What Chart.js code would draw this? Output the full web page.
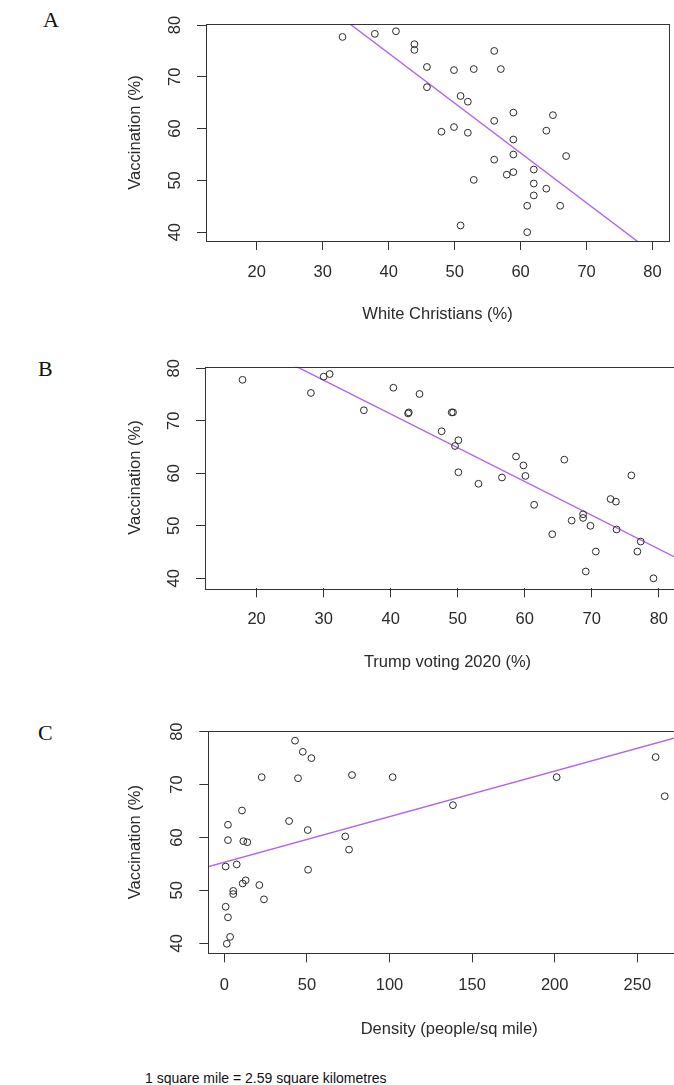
<!DOCTYPE html>
<html>
<head>
<meta charset="utf-8">
<script src="https://cdn.jsdelivr.net/npm/chart.js@4/dist/chart.umd.min.js"></script>
<style>
  html, body { margin: 0; padding: 0; background: #fff; width: 674px; height: 1085px; overflow: hidden; }
  .panel { position: absolute; left: 0; }
  .letter { position: absolute; font-family: "Liberation Serif", "Times New Roman", serif; font-size: 22px; line-height: 22px; color: #111; }
  .note { position: absolute; left: 145px; top: 1071px; font-family: "Liberation Sans", Arial, sans-serif; font-size: 14px; line-height: 14px; color: #111; white-space: nowrap; }
</style>
</head>
<body>
<div class="letter" style="left:43px; top:9px;">A</div>
<div class="letter" style="left:38px; top:358px;">B</div>
<div class="letter" style="left:38px; top:722px;">C</div>

<div class="panel" style="top:0px;"><canvas id="cA" width="674" height="335"></canvas></div>
<div class="panel" style="top:340px;"><canvas id="cB" width="700" height="345"></canvas></div>
<div class="panel" style="top:700px;"><canvas id="cC" width="700" height="345"></canvas></div>

<div class="note">1 square mile = 2.59 square kilometres</div>

<script>
// ---------------- data ----------------
const vaccTicks = [40, 50, 60, 70, 80];
const pctTicks = [20, 30, 40, 50, 60, 70, 80];
const densityTicks = [0, 50, 100, 150, 200, 250];

// Panel A: White Christians (%) vs Vaccination (%)
const whiteChristians = [33.0, 37.9, 41.1, 43.9, 43.9, 45.8, 45.8, 56.0, 49.9, 52.9, 57.0, 50.9, 52.0, 58.9, 64.9, 56.0, 48.0, 49.9, 52.0, 63.9, 58.9, 58.9, 66.9, 56.0, 62.0, 52.9, 57.9, 58.9, 62.0, 63.9, 62.0, 61.0, 66.0, 50.9, 61.0];
const vaccA = [77.7, 78.3, 78.8, 76.3, 75.2, 71.9, 68.0, 75.0, 71.3, 71.5, 71.5, 66.3, 65.2, 63.1, 62.6, 61.5, 59.4, 60.3, 59.2, 59.6, 57.9, 55.0, 54.7, 54.0, 52.1, 50.1, 51.1, 51.6, 49.4, 48.4, 47.1, 45.1, 45.1, 41.3, 40.0];
const fitAx = [33.3, 79.0];
const fitAy = [81.0, 37.0];

// Panel B: Trump voting 2020 (%) vs Vaccination (%)
const trumpVoting = [17.9, 28.1, 30.0, 30.9, 36.0, 40.4, 42.6, 42.7, 44.3, 49.1, 49.3, 47.6, 50.1, 49.6, 50.1, 53.1, 56.6, 58.7, 59.8, 60.1, 65.9, 61.4, 64.1, 67.0, 68.7, 68.7, 69.8, 69.1, 70.6, 72.8, 73.6, 75.9, 73.7, 77.3, 76.8, 79.2];
const vaccB = [77.8, 75.3, 78.4, 78.9, 72.0, 76.3, 71.4, 71.6, 75.1, 71.6, 71.6, 68.0, 66.3, 65.2, 60.2, 58.0, 59.2, 63.2, 61.5, 59.5, 62.6, 54.0, 48.4, 51.0, 52.2, 51.5, 50.0, 41.3, 45.1, 55.1, 54.6, 59.6, 49.3, 47.0, 45.1, 40.0];
const fitBx = [24.9, 86.0];
const fitBy = [81.0, 41.7];

// Panel C: Density (people/sq mile) vs Vaccination (%)
const density = [42.8, 47.5, 52.7, 22.6, 44.6, 77.3, 101.9, 10.7, 2.2, 39.2, 50.5, 2.2, 11.5, 13.9, 73.2, 75.5, 0.8, 7.5, 50.7, 11.1, 12.9, 21.2, 5.4, 5.4, 24.0, 0.8, 2.2, 3.5, 1.5, 138.4, 201.2, 261.1, 266.6];
const vaccC = [78.3, 76.2, 75.0, 71.4, 71.2, 71.8, 71.4, 65.1, 62.4, 63.1, 61.4, 59.5, 59.3, 59.1, 60.2, 57.7, 54.5, 54.9, 53.9, 51.3, 51.9, 51.0, 49.9, 49.3, 48.3, 46.9, 44.9, 41.2, 39.9, 66.1, 71.4, 75.2, 67.8];
const fitCx = [-12.0, 290.0];
const fitCy = [54.3, 80.3];

// ---------------- helpers ----------------
const FONT = { family: "'Liberation Sans', Arial, sans-serif", size: 16.5 };
const INK = '#2a2a2a';
const LINE_COLOR = 'rgb(178, 102, 236)';

const boxPlugin = {
  id: 'box',
  afterDraw(chart) {
    const { ctx, chartArea: a } = chart;
    ctx.save();
    ctx.strokeStyle = '#333';
    ctx.lineWidth = 1;
    ctx.strokeRect(Math.round(a.left) + 0.5, Math.round(a.top) + 0.5, Math.round(a.right - a.left), Math.round(a.bottom - a.top));
    ctx.restore();
  }
};

function pts(xs, ys) { return xs.map((x, i) => ({ x: x, y: ys[i] })); }

function makeChart(id, cfg) {
  const ctx = document.getElementById(id);
  return new Chart(ctx, {
    type: 'scatter',
    data: {
      datasets: [
        {
          data: pts(cfg.xs, cfg.ys),
          pointStyle: 'circle',
          pointRadius: 3.4,
          pointBorderWidth: 1,
          pointBorderColor: INK,
          pointBackgroundColor: 'rgba(0,0,0,0)',
          showLine: false,
          clip: false
        },
        {
          data: pts(cfg.fx, cfg.fy),
          showLine: true,
          pointRadius: 0,
          borderColor: LINE_COLOR,
          borderWidth: 1.4,
          fill: false
        }
      ]
    },
    options: {
      responsive: false,
      animation: false,
      devicePixelRatio: 1,
      events: [],
      layout: { padding: cfg.pad },
      plugins: { legend: { display: false }, tooltip: { enabled: false }, title: { display: false } },
      scales: {
        x: {
          type: 'linear',
          position: 'bottom',
          min: cfg.xmin, max: cfg.xmax,
          afterBuildTicks: (s) => { s.ticks = cfg.xticks.map(v => ({ value: v })); },
          afterFit: (s) => { s.height = cfg.xh; s.paddingLeft = 0; s.paddingRight = 0; },
          grid: { display: true, drawOnChartArea: false, drawTicks: true, tickLength: 9, color: '#333', lineWidth: 1 },
          border: { display: false },
          ticks: { font: FONT, color: INK, padding: cfg.xtp, maxRotation: 0, minRotation: 0, autoSkip: false },
          title: { display: true, text: cfg.xtitle, font: FONT, color: INK, padding: { top: 0, bottom: cfg.xtitlePad } }
        },
        y: {
          type: 'linear',
          position: 'left',
          min: cfg.ymin, max: cfg.ymax,
          afterBuildTicks: (s) => { s.ticks = vaccTicks.map(v => ({ value: v })); },
          afterFit: (s) => { s.width = cfg.yw; s.paddingTop = 0; s.paddingBottom = 0; },
          grid: { display: true, drawOnChartArea: false, drawTicks: true, tickLength: 9, color: '#333', lineWidth: 1 },
          border: { display: false },
          ticks: { font: FONT, color: INK, padding: 12.8, minRotation: 90, maxRotation: 90, crossAlign: 'center', autoSkip: false },
          title: { display: true, text: 'Vaccination (%)', font: FONT, color: INK, padding: { top: 6, bottom: 0 } }
        }
      }
    },
    plugins: [boxPlugin]
  });
}

makeChart('cA', {
  xs: whiteChristians, ys: vaccA, fx: fitAx, fy: fitAy,
  xmin: 12.3, xmax: 82.5, ymin: 38.3, ymax: 80.2,
  xticks: pctTicks, xtitle: 'White Christians (%)',
  pad: { left: 120, top: 24, right: 4.7, bottom: 0 },
  yw: 86, xh: 94, xtp: 12.4, xtitlePad: 11.1
});

makeChart('cB', {
  xs: trumpVoting, ys: vaccB, fx: fitBx, fy: fitBy,
  xmin: 12.3, xmax: 84.65, ymin: 38.1, ymax: 80.3,
  xticks: pctTicks, xtitle: 'Trump voting 2020 (%)',
  pad: { left: 120, top: 26.7, right: 10, bottom: 0 },
  yw: 85, xh: 96.7, xtp: 12.1, xtitlePad: 12.8
});

makeChart('cC', {
  xs: density, ys: vaccC, fx: fitCx, fy: fitCy,
  xmin: -9.7, xmax: 281.9, ymin: 38.1, ymax: 80.13,
  xticks: densityTicks, xtitle: 'Density (people/sq mile)',
  pad: { left: 120, top: 31, right: 10, bottom: 0 },
  yw: 88.3, xh: 91.7, xtp: 12.8, xtitlePad: 5.8
});
</script>
</body>
</html>
